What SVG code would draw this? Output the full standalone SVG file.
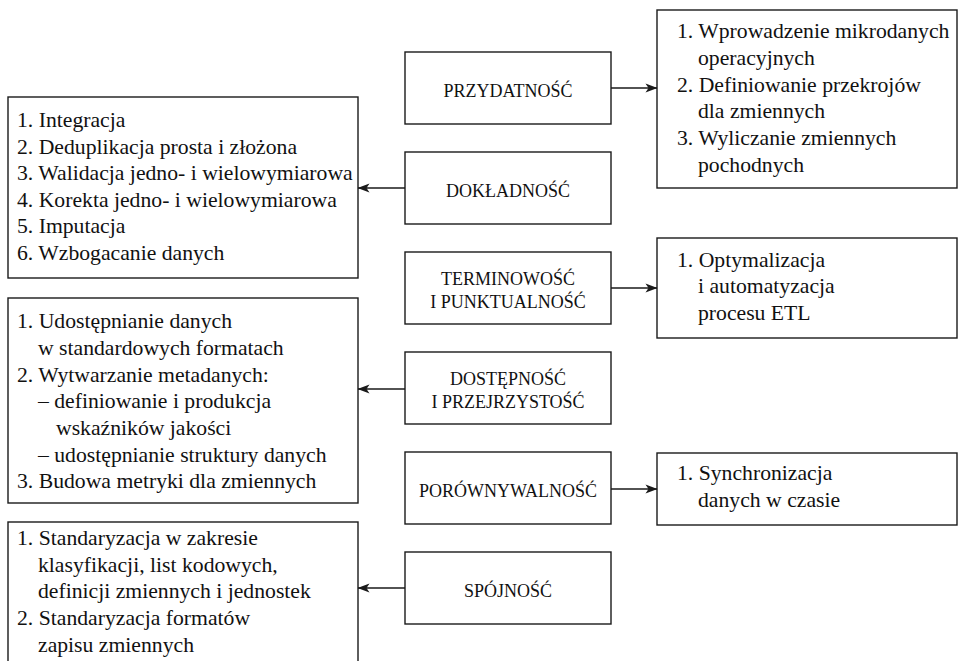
<svg xmlns="http://www.w3.org/2000/svg" width="958" height="661" viewBox="0 0 958 661">
  <defs>
    <style>
      .box { fill: #ffffff; stroke: #1a1a1a; stroke-width: 1.4; }
      .dim { font-family: "Liberation Serif", "DejaVu Serif", serif; font-size: 18px; fill: #111; text-anchor: middle; }
      .txt { font-family: "Liberation Serif", "DejaVu Serif", serif; font-size: 21.7px; fill: #111; }
      .link { stroke: #1a1a1a; stroke-width: 1.4; fill: none; marker-end: url(#arrow); }
    </style>
    <marker id="arrow" viewBox="0 0 12 10" refX="11.5" refY="5" markerUnits="userSpaceOnUse" markerWidth="13" markerHeight="10" orient="auto">
      <path d="M0,0.5 L12,5 L0,9.5 L3,5 Z" fill="#1a1a1a"/>
    </marker>
  </defs>
  <rect width="958" height="661" fill="#ffffff"/>

  <!-- quality dimensions (central column) -->
  <g id="przydatnosc">
    <rect class="box" x="405" y="52" width="206" height="72"/>
    <text class="dim" x="508" y="97">PRZYDATNOŚĆ</text>
  </g>
  <g id="dokladnosc">
    <rect class="box" x="405" y="152" width="206" height="72"/>
    <text class="dim" x="508" y="197">DOKŁADNOŚĆ</text>
  </g>
  <g id="terminowosc">
    <rect class="box" x="405" y="252" width="206" height="72"/>
    <text class="dim" x="508" y="285">TERMINOWOŚĆ</text>
    <text class="dim" x="508" y="308">I PUNKTUALNOŚĆ</text>
  </g>
  <g id="dostepnosc">
    <rect class="box" x="405" y="352" width="206" height="72"/>
    <text class="dim" x="508" y="385">DOSTĘPNOŚĆ</text>
    <text class="dim" x="508" y="408">I PRZEJRZYSTOŚĆ</text>
  </g>
  <g id="porownywalnosc">
    <rect class="box" x="405" y="452" width="206" height="72"/>
    <text class="dim" x="508" y="497">PORÓWNYWALNOŚĆ</text>
  </g>
  <g id="spojnosc">
    <rect class="box" x="405" y="552" width="206" height="72"/>
    <text class="dim" x="508" y="597">SPÓJNOŚĆ</text>
  </g>

  <!-- activity lists, right column -->
  <g id="przydatnosc-list">
    <rect class="box" x="657" y="10" width="300" height="178"/>
    <text class="txt" x="677" y="38">1. Wprowadzenie mikrodanych</text>
    <text class="txt" x="698" y="65">operacyjnych</text>
    <text class="txt" x="677" y="92">2. Definiowanie przekrojów</text>
    <text class="txt" x="698" y="118">dla zmiennych</text>
    <text class="txt" x="677" y="145">3. Wyliczanie zmiennych</text>
    <text class="txt" x="698" y="172">pochodnych</text>
  </g>
  <g id="terminowosc-list">
    <rect class="box" x="657" y="238" width="300" height="100"/>
    <text class="txt" x="677" y="267">1. Optymalizacja</text>
    <text class="txt" x="698" y="293">i automatyzacja</text>
    <text class="txt" x="698" y="320">procesu ETL</text>
  </g>
  <g id="porownywalnosc-list">
    <rect class="box" x="657" y="453" width="300" height="72"/>
    <text class="txt" x="677" y="480">1. Synchronizacja</text>
    <text class="txt" x="698" y="507">danych w czasie</text>
  </g>

  <!-- activity lists, left column -->
  <g id="dokladnosc-list">
    <rect class="box" x="8" y="97" width="350" height="181"/>
    <text class="txt" x="17" y="127">1. Integracja</text>
    <text class="txt" x="17" y="154">2. Deduplikacja prosta i złożona</text>
    <text class="txt" x="17" y="180">3. Walidacja jedno- i wielowymiarowa</text>
    <text class="txt" x="17" y="207">4. Korekta jedno- i wielowymiarowa</text>
    <text class="txt" x="17" y="233">5. Imputacja</text>
    <text class="txt" x="17" y="260">6. Wzbogacanie danych</text>
  </g>
  <g id="dostepnosc-list">
    <rect class="box" x="8" y="298" width="350" height="205"/>
    <text class="txt" x="17" y="328">1. Udostępnianie danych</text>
    <text class="txt" x="38" y="355">w standardowych formatach</text>
    <text class="txt" x="17" y="382">2. Wytwarzanie metadanych:</text>
    <text class="txt" x="38" y="408">– definiowanie i produkcja</text>
    <text class="txt" x="56" y="435">wskaźników jakości</text>
    <text class="txt" x="38" y="462">– udostępnianie struktury danych</text>
    <text class="txt" x="17" y="488">3. Budowa metryki dla zmiennych</text>
  </g>
  <g id="spojnosc-list">
    <rect class="box" x="8" y="522" width="350" height="160"/>
    <text class="txt" x="17" y="545">1. Standaryzacja w zakresie</text>
    <text class="txt" x="38" y="572">klasyfikacji, list kodowych,</text>
    <text class="txt" x="38" y="598">definicji zmiennych i jednostek</text>
    <text class="txt" x="17" y="625">2. Standaryzacja formatów</text>
    <text class="txt" x="38" y="652">zapisu zmiennych</text>
  </g>

  <!-- connectors -->
  <g id="connectors">
    <line class="link" x1="611" y1="88" x2="657" y2="88"/>
    <line class="link" x1="405" y1="188" x2="358" y2="188"/>
    <line class="link" x1="611" y1="288" x2="657" y2="288"/>
    <line class="link" x1="405" y1="389" x2="358" y2="389"/>
    <line class="link" x1="611" y1="489" x2="657" y2="489"/>
    <line class="link" x1="405" y1="588" x2="358" y2="588"/>
  </g>
</svg>
